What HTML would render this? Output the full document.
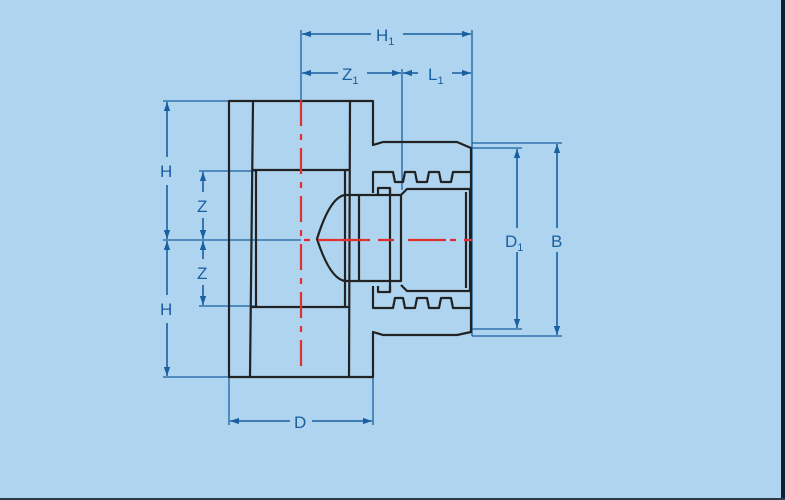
<!DOCTYPE html>
<html><head><meta charset="utf-8"><style>
html,body{margin:0;padding:0;background:#aed4f0;}
svg{display:block}
text{font-family:"Liberation Sans",sans-serif;fill:#1a5fa0;}
</style></head><body>
<svg width="785" height="500" viewBox="0 0 785 500" xmlns="http://www.w3.org/2000/svg">
<rect width="785" height="500" fill="#aed4f0"/>
<rect x="781" y="0" width="4" height="500" fill="#0a2233"/>
<rect x="0" y="498" width="785" height="2" fill="#2a3a48"/>
<defs>
<marker id="a" viewBox="0 0 10 10" refX="10" refY="5" markerWidth="9" markerHeight="9" orient="auto-start-reverse" markerUnits="userSpaceOnUse"><path d="M0,1.5 L10,5 L0,8.5 z" fill="#1a5fa0"/></marker>
</defs>
<!-- extension lines -->
<g stroke="#1a5fa0" stroke-width="1.3" fill="none">
<line x1="301" y1="30" x2="301" y2="101"/>
<line x1="472" y1="30" x2="472" y2="336"/>
<line x1="402" y1="69" x2="402" y2="190"/>
<line x1="163" y1="101" x2="229" y2="101"/>
<line x1="163" y1="377" x2="229" y2="377"/>
<line x1="163" y1="240" x2="301" y2="240"/>
<line x1="199" y1="171" x2="256" y2="171"/>
<line x1="199" y1="306" x2="256" y2="306"/>
<line x1="472" y1="148" x2="522" y2="148"/>
<line x1="472" y1="329" x2="522" y2="329"/>
<line x1="472" y1="143" x2="562" y2="143"/>
<line x1="472" y1="336" x2="562" y2="336"/>
<line x1="229" y1="377" x2="229" y2="425"/>
<line x1="373" y1="372" x2="373" y2="425"/>
</g>
<!-- dimension lines -->
<g stroke="#1a5fa0" stroke-width="1.6" fill="none">
<line x1="302" y1="34" x2="371" y2="34" marker-start="url(#a)"/>
<line x1="403" y1="34" x2="471" y2="34" marker-end="url(#a)"/>
<line x1="302" y1="73" x2="338" y2="73" marker-start="url(#a)"/>
<line x1="367" y1="73" x2="401" y2="73" marker-end="url(#a)"/>
<line x1="403" y1="73" x2="418" y2="73" marker-start="url(#a)"/>
<line x1="452" y1="73" x2="471" y2="73" marker-end="url(#a)"/>
<line x1="167" y1="102" x2="167" y2="157" marker-start="url(#a)"/>
<line x1="167" y1="185" x2="167" y2="239" marker-end="url(#a)"/>
<line x1="167" y1="241" x2="167" y2="295" marker-start="url(#a)"/>
<line x1="167" y1="323" x2="167" y2="376" marker-end="url(#a)"/>
<line x1="203" y1="172" x2="203" y2="192" marker-start="url(#a)"/>
<line x1="203" y1="218" x2="203" y2="239" marker-end="url(#a)"/>
<line x1="203" y1="241" x2="203" y2="259" marker-start="url(#a)"/>
<line x1="203" y1="285" x2="203" y2="305" marker-end="url(#a)"/>
<line x1="517" y1="149" x2="517" y2="228" marker-start="url(#a)"/>
<line x1="517" y1="252" x2="517" y2="328" marker-end="url(#a)"/>
<line x1="557" y1="144" x2="557" y2="228" marker-start="url(#a)"/>
<line x1="557" y1="252" x2="557" y2="335" marker-end="url(#a)"/>
<line x1="230" y1="421" x2="290" y2="421" marker-start="url(#a)"/>
<line x1="312" y1="421" x2="372" y2="421" marker-end="url(#a)"/>
</g>
<g font-size="17">
<text x="376" y="41">H<tspan font-size="11" dy="4">1</tspan></text>
<text x="342" y="80">Z<tspan font-size="11" dy="4">1</tspan></text>
<text x="428" y="80">L<tspan font-size="11" dy="4">1</tspan></text>
<text x="160" y="177">H</text>
<text x="160" y="315">H</text>
<text x="197" y="212">Z</text>
<text x="197" y="279">Z</text>
<text x="505" y="247">D<tspan font-size="11" dy="4">1</tspan></text>
<text x="551" y="247">B</text>
<text x="294" y="428">D</text>
</g>
<!-- fitting -->
<g stroke="#222" stroke-width="2.2" fill="none" stroke-linejoin="round">
<path d="M229,101 H373 V145 L383,142 H457 L471,148 V332 L457,335 H383 L373,332 V377 H229 Z"/>
<line x1="253" y1="101" x2="250" y2="377"/>
<line x1="350" y1="101" x2="349" y2="377"/>
<line x1="253" y1="170" x2="350" y2="170"/>
<line x1="250" y1="307" x2="349" y2="307"/>
<line x1="256" y1="170" x2="256" y2="307"/>
<line x1="345" y1="170" x2="345" y2="307"/>
<!-- nut top -->
<path d="M373,193 V172 H393 L395,182 H403 L405,172 H415 L417,182 H427 L429,172 H439 L441,182 H451 L453,172 H471"/>
<path d="M373,286 V308 H393 L395,298 H403 L405,308 H415 L417,298 H427 L429,308 H439 L441,298 H451 L453,308 H471"/>
<!-- flanges -->
<path d="M378,194 V188 H390 V194"/>
<path d="M378,286 V292 H390 V286"/>
<!-- pipe with dome -->
<path d="M359,195 H345 Q330,197 317,239 Q330,279 345,281 H359"/>
<rect x="359" y="195" width="42" height="86"/>
<line x1="390" y1="188" x2="390" y2="292"/>
<path d="M401,195 L407,189 H470 V291 H407 L401,285"/>
<line x1="466" y1="192" x2="466" y2="288"/>
</g>
<!-- center lines -->
<g stroke="#e03030" stroke-width="2.2">
<line x1="301" y1="100" x2="301" y2="372" stroke-dasharray="26,8,6,8"/>
<line x1="304" y1="240" x2="472" y2="240" stroke-dasharray="6,8,52,8,16,14,38,4"/>
</g>
</svg>
</body></html>
